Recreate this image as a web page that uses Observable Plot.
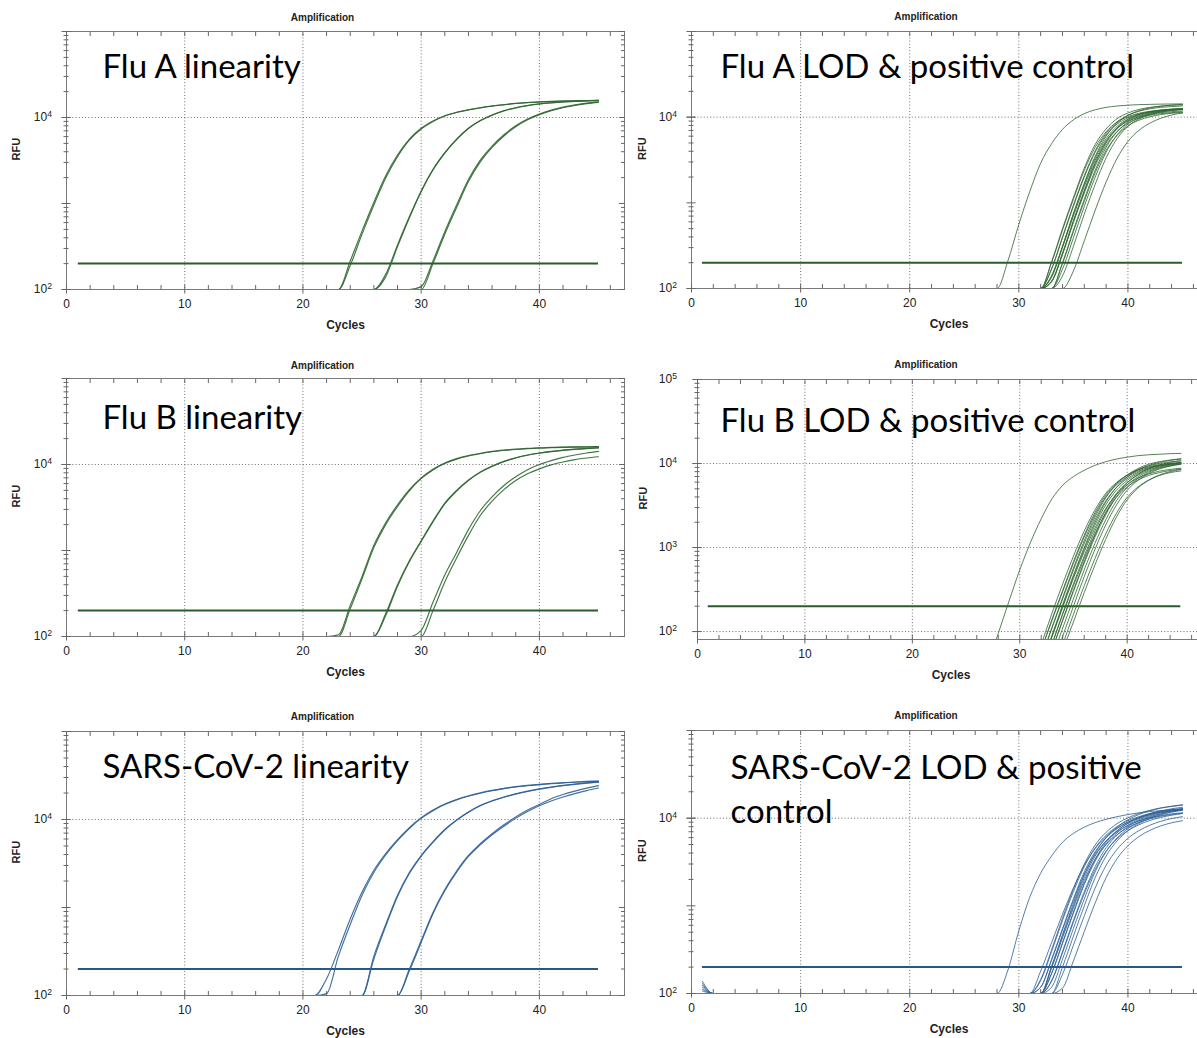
<!DOCTYPE html>
<html><head><meta charset="utf-8">
<script src="https://cdn.jsdelivr.net/npm/d3@7"></script>
<script src="https://cdn.jsdelivr.net/npm/@observablehq/plot@0.6"></script>
<style>
html,body{margin:0;padding:0;background:#fff;overflow:hidden}
#fig{position:relative;width:1197px;height:1038px;overflow:hidden;background:#fff}
#fig svg{position:absolute;max-width:none}
</style></head>
<body><div id="fig"></div>
<script>
// ---------------- data ----------------
const cycleLabels = [0, 10, 20, 30, 40];
const cycleGrid = [10, 20, 30, 40];
const cycleMinor = [2, 4, 6, 8, 12, 14, 16, 18, 22, 24, 26, 28, 32, 34, 36, 38, 42, 44, 46];
const cycleEven = [0, 2, 4, 6, 8, 10, 12, 14, 16, 18, 20, 22, 24, 26, 28, 30, 32, 34, 36, 38, 40, 42, 44, 46];
const rfuLabels = [1e2, 1e4];
const rfuLabelsFluBLod = [1e2, 1e3, 1e4, 1e5];
const rfuMajor = [1e2, 1e3, 1e4, 1e5];
const rfuMinor = [200, 300, 400, 500, 600, 700, 800, 900, 2000, 3000, 4000, 5000, 6000, 7000, 8000, 9000,
                  20000, 30000, 40000, 50000, 60000, 70000, 80000, 90000];
const rfuGrid = [1e4];
const rfuGridFluBLod = [1e2, 1e3, 1e4];
const THRESHOLD = 200;
const THRESHOLD_FROM = 1, THRESHOLD_TO = 45;
const BASELINE = 100;
const titles = ["Amplification"];

// each curve: c0 = first cycle listed, rfu = RFU at cycles c0, c0+1, ... 45; c1 = RFU at cycle 1 (if above baseline)
const fluA_lin = [
  {c0:23, rfu:[100,215,480,1035,2100,3650,5600,7500,9100,10500,11500,12300,13000,13600,14100,14600,14950,15200,15400,15550,15650,15750,15800]},
  {c0:23, rfu:[100,190,440,960,1980,3500,5450,7350,9000,10400,11450,12250,12950,13550,14050,14550,14900,15150,15350,15500,15600,15700,15750]},
  {c0:26, rfu:[100,150,330,700,1400,2500,3900,5600,7500,9200,10700,12000,13000,13800,14400,14850,15200,15450,15650,15800]},
  {c0:26, rfu:[100,140,315,680,1370,2450,3850,5550,7450,9150,10650,11950,12950,13750,14350,14800,15150,15400,15600,15750]},
  {c0:29, rfu:[100,108,215,470,960,1900,3200,4650,6300,8000,9600,11000,12200,13200,14000,14700,15200]},
  {c0:30, rfu:[100,200,440,900,1800,3050,4500,6100,7800,9400,10800,12000,13000,13800,14500,15000]}
];
const fluA_lod = [
  {c0:28, rfu:[100,210,560,1350,2900,4900,7200,9300,11000,12200,13000,13500,13800,14000,14100,14200,14250,14300]},
  {c0:32, rfu:[100,200,480,1100,2400,4450,6750,8750,10150,11100,11700,12100,12350,12500]},
  {c0:32, rfu:[100,168,390,910,2000,3900,6200,8300,9850,10900,11580,12030,12300,12480]},
  {c0:32, rfu:[100,140,310,740,1650,3350,5600,7800,9500,10700,11450,11950,12250,12450]},
  {c0:32, rfu:[100,140,310,750,1700,3500,6000,8500,10500,11900,12800,13400,13800,14000]},
  {c0:32, rfu:[100,120,250,600,1350,2850,5000,7300,9150,10430,11280,11830,12180,12400]},
  {c0:32, rfu:[100,120,250,590,1300,2700,4700,6800,8500,9700,10500,11000,11300,11500]},
  {c0:33, rfu:[100,200,480,1100,2400,4450,6750,8750,10150,11100,11700,12100,12350]},
  {c0:32, rfu:[100,170,400,940,2080,4050,6500,8800,10500,11700,12500,13000,13300,13500]},
  {c0:32, rfu:[100,135,300,700,1550,3150,5300,7400,9000,10100,10800,11300,11600,11800]},
  {c0:33, rfu:[100,168,390,910,2000,3900,6200,8300,9850,10900,11580,12030,12300]},
  {c0:33, rfu:[100,140,310,740,1650,3350,5600,7800,9500,10700,11450,11950,12250]},
  {c0:34, rfu:[100,160,360,820,1750,3300,5200,7000,8500,9700,10600,11200]},
  {c0:32, rfu:[100,205,500,1150,2550,4800,7300,9600,11200,12300,13000,13500,13800,14000]},
  {c0:33, rfu:[100,195,460,1040,2250,4100,6100,7900,9200,10100,10700,11100,11300]},
  {c0:32, rfu:[100,122,260,620,1400,2950,5150,7500,9400,10700,11550,12100,12450,12650]}
];
const fluB_lin = [
  {c0:22, rfu:[100,105,230,500,1150,2100,3400,5100,7000,8800,10400,11700,12700,13500,14200,14700,15100,15400,15650,15800,15950,16050,16100,16150]},
  {c0:23, rfu:[100,210,470,1080,2000,3250,4950,6850,8650,10250,11550,12550,13350,14050,14550,14950,15250,15500,15650,15800,15900,15950,16000]},
  {c0:26, rfu:[100,185,400,760,1300,2200,3550,5000,6600,8200,9600,10900,12000,12900,13600,14200,14700,15100,15400,15700]},
  {c0:26, rfu:[100,175,385,740,1270,2150,3480,4920,6500,8100,9500,10800,11900,12800,13500,14100,14600,15000,15300,15550]},
  {c0:29, rfu:[100,118,250,520,950,1750,2900,4200,5700,7200,8700,10000,11100,12100,12900,13600,14200]},
  {c0:30, rfu:[100,200,430,820,1500,2550,3750,5100,6500,7800,8900,9900,10700,11400,11900,12300]}
];
const fluB_lod = [
  {c0:27, rfu:[40,95,230,540,1150,2200,3800,5500,7000,8300,9500,10500,11300,11900,12400,12700,12900,13100,13200]},
  {c0:32, rfu:[70,165,370,790,1570,2800,4400,5920,7270,8350,9130,9680,10020,10250]},
  {c0:32, rfu:[60,135,300,650,1330,2450,4000,5550,6950,8100,8950,9550,9950,10250]},
  {c0:32, rfu:[48,110,245,540,1120,2130,3580,5170,6620,7850,8780,9420,9870,10170]},
  {c0:32, rfu:[48,112,255,570,1200,2300,3900,5700,7300,8700,9800,10500,11000,11400]},
  {c0:32, rfu:[40,88,200,450,950,1850,3200,4800,6300,7600,8600,9300,9800,10100]},
  {c0:32, rfu:[40,90,210,470,1000,1980,3450,5200,6900,8400,9500,10300,10900,11300]},
  {c0:33, rfu:[70,165,370,790,1570,2800,4400,5920,7270,8350,9130,9680,10020]},
  {c0:33, rfu:[70,160,350,740,1450,2550,3950,5250,6350,7200,7800,8250,8550]},
  {c0:33, rfu:[60,135,300,650,1330,2450,4000,5550,6950,8100,8950,9550,9950]},
  {c0:33, rfu:[60,138,310,680,1400,2600,4250,5900,7400,8700,9600,10300,10800]},
  {c0:33, rfu:[48,110,245,540,1120,2130,3580,5170,6620,7850,8780,9420,9870]},
  {c0:33, rfu:[40,88,200,450,950,1850,3200,4800,6300,7600,8600,9300,9800]},
  {c0:34, rfu:[70,160,350,740,1450,2550,3950,5250,6350,7200,7800,8150]},
  {c0:34, rfu:[60,130,290,620,1250,2300,3700,5100,6300,7300,8000,8500]},
  {c0:32, rfu:[40,86,195,430,890,1700,2900,4300,5600,6700,7500,8100,8500,8800]},
  {c0:32, rfu:[60,140,310,680,1400,2600,4200,5800,7250,8450,9350,10000,10450,10750]}
];
const sars_lin = [
  {c0:21, rfu:[100,155,330,740,1500,2650,4100,5900,8100,10500,12800,15000,16900,18600,20100,21400,22600,23600,24400,25100,25700,26200,26700,27100,27400]},
  {c0:21, rfu:[100,105,280,640,1380,2500,3950,5750,7900,10300,12600,14800,16700,18400,19900,21200,22400,23400,24200,24900,25500,26000,26500,26900,27200]},
  {c0:25, rfu:[100,280,640,1380,2500,3900,5600,7700,9900,12200,14400,16300,18000,19600,21000,22300,23400,24400,25300,26100,26800]},
  {c0:25, rfu:[100,260,610,1330,2430,3820,5500,7600,9800,12100,14300,16200,17900,19400,20800,22100,23200,24200,25100,25900,26600]},
  {c0:28, rfu:[100,200,420,880,1600,2600,3900,5300,6900,8700,10700,12800,14800,17200,19200,21000,22700,24300]},
  {c0:28, rfu:[100,190,400,850,1550,2520,3800,5150,6700,8400,10300,12300,14300,16200,18000,19700,21300,22800]}
];
const sars_lod = [
  {c0:28, rfu:[100,185,520,1250,2350,3700,5300,6700,7900,8900,9700,10400,11000,11500,11900,12200,12400,12600]},
  {c1:138, c0:31, rfu:[100,140,300,680,1450,2800,4600,6400,8000,9350,10400,11300,12000,12500,12850]},
  {c1:130, c0:31, rfu:[100,145,315,720,1550,3000,4950,6900,8650,10100,11300,12300,13100,13700,14200]},
  {c1:124, c0:31, rfu:[100,118,245,550,1200,2450,4150,5950,7600,9020,10150,11100,11850,12400,12780]},
  {c1:118, c0:31, rfu:[100,118,240,530,1150,2300,3850,5500,7000,8250,9300,10100,10700,11200,11500]},
  {c1:112, c0:32, rfu:[100,200,450,1000,2100,3700,5500,7200,8700,9900,10900,11700,12300,12700]},
  {c1:107, c0:32, rfu:[100,205,470,1060,2250,4000,6000,7900,9600,11000,12100,13000,13600,14100]},
  {c0:32, rfu:[100,195,430,940,1950,3400,5000,6500,7800,8900,9800,10500,11000,11400]},
  {c0:32, rfu:[100,168,370,820,1750,3250,5050,6800,8350,9620,10650,11500,12150,12600]},
  {c0:32, rfu:[100,170,380,850,1820,3400,5300,7150,8800,10150,11250,12100,12800,13300]},
  {c0:32, rfu:[100,140,300,680,1450,2800,4600,6400,8000,9350,10400,11300,12000,12500]},
  {c0:32, rfu:[100,138,290,650,1370,2600,4200,5800,7200,8400,9400,10200,10800,11300]},
  {c0:32, rfu:[100,118,245,550,1200,2450,4150,5950,7600,9020,10150,11100,11850,12400]},
  {c0:33, rfu:[100,200,450,1000,2100,3700,5500,7200,8700,9900,10900,11700,12300]},
  {c0:33, rfu:[100,165,355,770,1600,2900,4400,5900,7200,8300,9200,9900,10400]},
  {c0:33, rfu:[100,115,235,510,1080,2100,3450,4850,6150,7250,8150,8850,9350]},
  {c0:31, rfu:[100,180,380,800,1600,2900,4500,6200,7700,9000,10100,11000,11700,12200,12600]}
];

// ---------------- layout / style ----------------
const GREEN = "#2f6630", GREEN_T = "#2a5c2b", BLUE = "#2d5f95", BLUE_T = "#2b5785";
const X_DOMAIN = [0, 47.2];
const FONT = "'Liberation Sans', Arial, sans-serif";

const panels = [
  {curves: fluA_lin, base: BASELINE, label: ["Flu A linearity"], color: GREEN, tcolor: GREEN_T, lw: 1.15,
   left: 0, top: 0, fw: 558, fh: 258, mb: 50, yDomain: [1e2, 1e5], yLabels: rfuLabels, yGrid: rfuGrid,
   ldx: 36, ldy: [46], tdx: -23, tdy: -14, rdx: -50, pad: 10},
  {curves: fluA_lod, base: BASELINE, label: ["Flu A LOD & positive control"], color: GREEN, tcolor: GREEN_T, lw: 0.9,
   left: 625, top: 0, fw: 515, fh: 257, mb: 50, yDomain: [1e2, 1e5], yLabels: rfuLabels, yGrid: rfuGrid,
   ldx: 29, ldy: [46], tdx: -23, tdy: -15, rdx: -49, pad: 10},
  {curves: fluB_lin, base: BASELINE, label: ["Flu B linearity"], color: GREEN, tcolor: GREEN_T, lw: 1.15,
   left: 0, top: 347, fw: 558, fh: 258, mb: 50, yDomain: [1e2, 1e5], yLabels: rfuLabels, yGrid: rfuGrid,
   ldx: 36, ldy: [50], tdx: -23, tdy: -13, rdx: -50, pad: 10},
  {curves: fluB_lod, base: null, label: ["Flu B LOD & positive control"], color: GREEN, tcolor: GREEN_T, lw: 0.9,
   left: 631, top: 348, fw: 507, fh: 260, mb: 50, yDomain: [80.4, 1e5], yLabels: rfuLabelsFluBLod, yGrid: rfuGridFluBLod,
   ldx: 23, ldy: [52], tdx: -25, tdy: -15, rdx: -54, pad: 16},
  {curves: sars_lin, base: BASELINE, label: ["SARS-CoV-2 linearity"], color: BLUE, tcolor: BLUE_T, lw: 1.15,
   left: 0, top: 700, fw: 558, fh: 264, mb: 42, yDomain: [1e2, 1e5], yLabels: rfuLabels, yGrid: rfuGrid,
   ldx: 36, ldy: [46], tdx: -23, tdy: -15, rdx: -50, pad: 10},
  {curves: sars_lod, base: BASELINE, label: ["SARS-CoV-2 LOD & positive", "control"], color: BLUE, tcolor: BLUE_T, lw: 0.9,
   left: 625, top: 699, fw: 515, fh: 263, mb: 45, yDomain: [1e2, 1e5], yLabels: rfuLabels, yGrid: rfuGrid,
   ldx: 39, ldy: [48, 92], tdx: -23, tdy: -15, rdx: -49, pad: 10}
];

function rowsOf(curves, base) {
  const rows = [];
  curves.forEach((c, i) => {
    if (c.c1 != null) {
      rows.push({id: i, cycle: 1, rfu: c.c1});
      rows.push({id: i, cycle: 2, rfu: base});
    } else if (base != null) {
      rows.push({id: i, cycle: 1, rfu: base});
    }
    c.rfu.forEach((v, j) => rows.push({id: i, cycle: c.c0 + j, rfu: v}));
  });
  return rows;
}

const fig = document.getElementById("fig");
const axisGray = "#7a7a7a";
const noText = () => "";

panels.forEach(p => {
  const rows = rowsOf(p.curves, p.base);
  const mt = 31, ml = 66, mr = 6;
  const chart = Plot.plot({
    width: ml + p.fw + mr,
    height: mt + p.fh + p.mb,
    marginLeft: ml, marginRight: mr, marginTop: mt, marginBottom: p.mb,
    x: {type: "linear", domain: X_DOMAIN},
    y: {type: "log", domain: p.yDomain},
    style: {background: "none", fontFamily: FONT, fontSize: "11px", color: "#222", overflow: "visible"},
    marks: [
      Plot.gridX(cycleGrid, {stroke: "#555", strokeOpacity: 0.85, strokeDasharray: "1,2.2"}),
      Plot.gridY(p.yGrid, {stroke: "#555", strokeOpacity: 0.85, strokeDasharray: "1,2.2"}),
      Plot.frame({stroke: axisGray, strokeWidth: 1}),
      // left axis: labelled decades + crossing ticks
      Plot.axisY(p.yLabels, {tickSize: 9, dx: 4.5, tickPadding: p.pad, stroke: "#666", label: null,
        tickFormat: d => "10^" + Math.round(Math.log10(d)), fontSize: 12, ariaLabel: "rfu-decade"}),
      Plot.axisY(rfuMajor.filter(d => d >= p.yDomain[0]), {tickSize: 9, dx: 4.5, stroke: "#666", label: null, tickFormat: noText}),
      Plot.axisY(rfuMinor, {tickSize: 5, dx: 2.5, stroke: "#666", label: null, tickFormat: noText}),
      // right border inward ticks
      Plot.axisY(rfuMinor, {anchor: "right", tickSize: 4, dx: -4, stroke: "#666", label: null, tickFormat: noText}),
      Plot.axisY(rfuMajor.filter(d => d >= p.yDomain[0]), {anchor: "right", tickSize: 6, dx: -6, stroke: "#666", label: null, tickFormat: noText}),
      // bottom axis
      Plot.axisX(cycleLabels, {tickSize: 9, dy: -4.5, tickPadding: 5, stroke: "#666", label: null, tickFormat: d => String(d), fontSize: 12}),
      Plot.axisX(cycleMinor, {tickSize: 4, dy: -4, stroke: "#666", label: null, tickFormat: noText}),
      // top border inward ticks
      Plot.axisX(cycleEven, {anchor: "top", tickSize: 4, dy: 4, stroke: "#666", label: null, tickFormat: noText}),
      // threshold
      Plot.ruleY([THRESHOLD], {x1: () => THRESHOLD_FROM, x2: () => THRESHOLD_TO, stroke: p.tcolor, strokeWidth: 2}),
      // amplification curves
      Plot.line(rows, {x: "cycle", y: "rfu", z: "id", stroke: p.color, strokeWidth: p.lw, strokeOpacity: 0.9,
        curve: "monotone-x", clip: true}),
      // texts
      Plot.text(titles, {text: d => d, frameAnchor: "top", dx: p.tdx, dy: p.tdy, lineAnchor: "middle",
        fontWeight: "bold", fontSize: 10, fill: "#222"}),
      Plot.text(["RFU"], {text: d => d, frameAnchor: "left", dx: p.rdx, rotate: -90, lineAnchor: "middle",
        fontWeight: "bold", fontSize: 11, fill: "#222"}),
      Plot.text(["Cycles"], {text: d => d, frameAnchor: "bottom", dy: 36, lineAnchor: "middle",
        fontWeight: "bold", fontSize: 12, fill: "#222"}),
      ...p.label.map((s, i) => Plot.text([s], {text: d => d, frameAnchor: "top-left", textAnchor: "start",
        lineAnchor: "bottom", dx: p.ldx, dy: p.ldy[i], fontSize: 33, fontFamily: "Lato", fill: "#000"}))
    ]
  });
  // render the decade exponents as real superscripts
  chart.querySelectorAll("text").forEach(t => {
    const m = /^10\^(\d)$/.exec(t.textContent);
    if (m) {
      t.textContent = "10";
      const s = document.createElementNS("http://www.w3.org/2000/svg", "tspan");
      s.setAttribute("dy", "-0.45em");
      s.setAttribute("font-size", "0.72em");
      s.textContent = m[1];
      t.appendChild(s);
    }
  });
  chart.style.left = p.left + "px";
  chart.style.top = p.top + "px";
  fig.appendChild(chart);
});
</script>
</body></html>
